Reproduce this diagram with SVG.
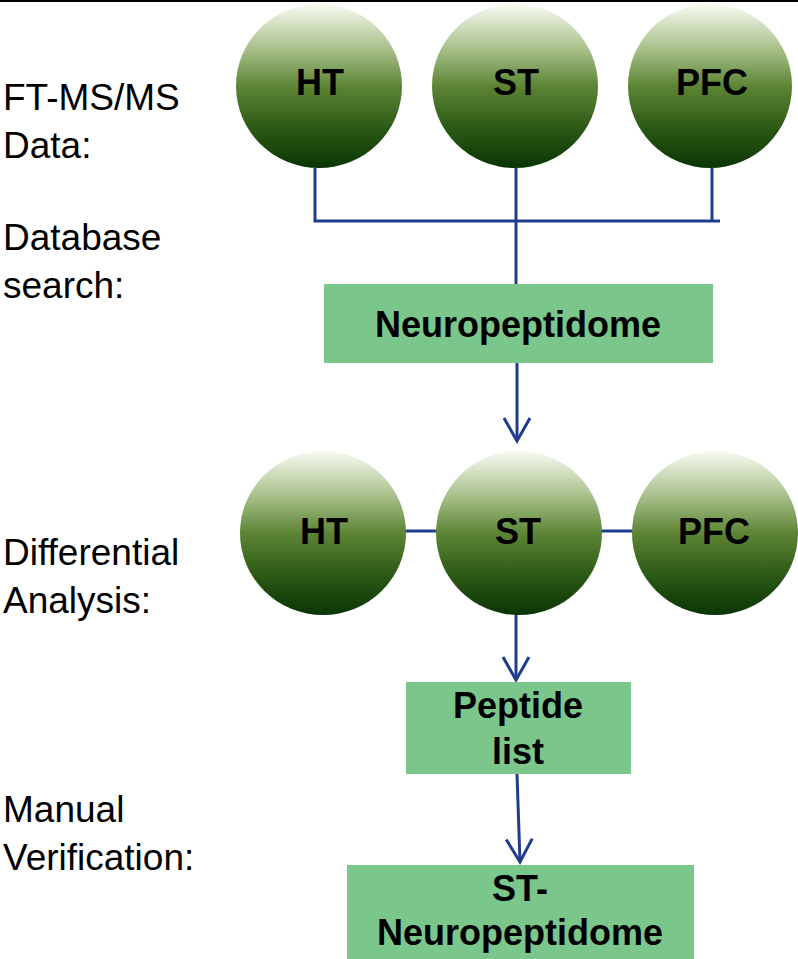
<svg xmlns="http://www.w3.org/2000/svg" width="798" height="959" viewBox="0 0 798 959">
<defs>
<linearGradient id="g" x1="0" y1="0" x2="0" y2="1">
<stop offset="0" stop-color="#f8fbf3"/>
<stop offset="0.28" stop-color="#a6bf88"/>
<stop offset="0.5" stop-color="#5d8535"/>
<stop offset="0.75" stop-color="#2d5a15"/>
<stop offset="1" stop-color="#0a3505"/>
</linearGradient>
<marker id="arr" markerUnits="userSpaceOnUse" markerWidth="30" markerHeight="30" viewBox="-26 -15 30 30" refX="0" refY="0" orient="auto" overflow="visible">
<path d="M-23,-13 L0,0 L-23,13" fill="none" stroke="#1f3d8c" stroke-width="3" stroke-linejoin="miter"/>
</marker>
<style>
.c{fill:url(#g)}
.b{fill:#7bc68b}
.l{stroke:#1f3d8c;stroke-width:3;fill:none}
.t{font-family:"Liberation Sans",Arial,sans-serif;font-weight:bold;font-size:36px;fill:#000;text-anchor:middle}
.s{font-family:"Liberation Sans",Arial,sans-serif;font-size:37px;fill:#000}
</style>
</defs>
<rect width="798" height="959" fill="#fff"/>
<line x1="0" y1="1" x2="798" y2="1" stroke="#000" stroke-width="2"/>

<g id="labels">
<text class="s" x="3" y="110">FT-MS/MS</text>
<text class="s" x="3" y="158">Data:</text>
<text class="s" x="3" y="250">Database</text>
<text class="s" x="3" y="298">search:</text>
<text class="s" x="3" y="565">Differential</text>
<text class="s" x="3" y="613">Analysis:</text>
<text class="s" x="3" y="822">Manual</text>
<text class="s" x="3" y="870">Verification:</text>
</g>

<g id="connectors">
<polyline class="l" points="315,168 315,221 720,221"/>
<line class="l" x1="712" y1="168" x2="712" y2="221"/>
<line class="l" x1="516" y1="168" x2="516" y2="285"/>
<line class="l" x1="517" y1="363" x2="517" y2="441" marker-end="url(#arr)"/>
<line class="l" x1="404" y1="531" x2="438" y2="531"/>
<line class="l" x1="601" y1="531" x2="634" y2="531"/>
<line class="l" x1="516" y1="614" x2="516" y2="680" marker-end="url(#arr)"/>
<line class="l" x1="517" y1="774" x2="520" y2="862" marker-end="url(#arr)"/>
</g>

<g id="ht1"><ellipse class="c" cx="319" cy="86" rx="83" ry="82"/><text class="t" x="320" y="95">HT</text></g>
<g id="st1"><ellipse class="c" cx="515" cy="86" rx="83" ry="82"/><text class="t" x="516" y="95">ST</text></g>
<g id="pfc1"><ellipse class="c" cx="710" cy="86" rx="82" ry="82"/><text class="t" x="712" y="95">PFC</text></g>

<g id="neuropeptidome"><rect class="b" x="324" y="284" width="389" height="79"/><text class="t" x="518" y="337">Neuropeptidome</text></g>

<g id="ht2"><ellipse class="c" cx="323" cy="533" rx="83" ry="82"/><text class="t" x="324" y="544">HT</text></g>
<g id="st2"><ellipse class="c" cx="519" cy="533" rx="83" ry="82"/><text class="t" x="518" y="544">ST</text></g>
<g id="pfc2"><ellipse class="c" cx="715" cy="533" rx="83" ry="82"/><text class="t" x="714" y="544">PFC</text></g>

<g id="peptide-list"><rect class="b" x="406" y="682" width="225" height="92"/><text class="t" x="518" y="718">Peptide</text><text class="t" x="518" y="764">list</text></g>

<g id="st-neuropeptidome"><rect class="b" x="347" y="865" width="347" height="94"/><text class="t" x="520" y="901">ST-</text><text class="t" x="520" y="945">Neuropeptidome</text></g>
</svg>
